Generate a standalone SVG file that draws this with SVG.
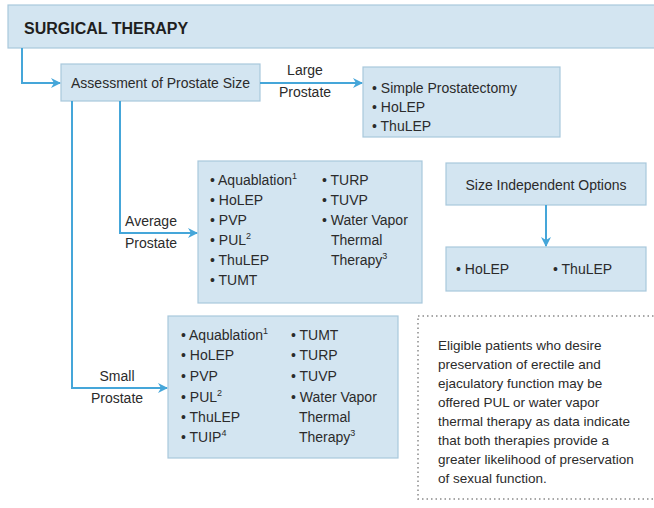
<svg xmlns="http://www.w3.org/2000/svg" width="654" height="508" viewBox="0 0 654 508">
<defs>
<marker id="ah" viewBox="0 0 10 10" refX="9" refY="5" markerWidth="10" markerHeight="10" markerUnits="userSpaceOnUse" orient="auto">
<path d="M0,0 L10,5 L0,10 L3,5 Z" fill="#45a6d9"/>
</marker>
</defs>
<style>
.box{fill:#d3e5f1;stroke:#a9c8dc;stroke-width:1.2}
.t{font-family:"Liberation Sans",Arial,sans-serif;font-size:14px;fill:#2b2b2b}
.n{font-family:"Liberation Sans",Arial,sans-serif;font-size:13.5px;fill:#2b2b2b}
.h{font-family:"Liberation Sans",Arial,sans-serif;font-size:16px;font-weight:bold;fill:#1f1f1f}
.c{fill:none;stroke:#45a6d9;stroke-width:2;marker-end:url(#ah)}
.sup{font-size:9px}
</style>
<rect width="654" height="508" fill="#ffffff"/>
<g id="header">
<rect class="box" x="8" y="5" width="660" height="43"/>
<text class="h" x="24" y="34">SURGICAL THERAPY</text>
</g>
<g id="assessment">
<rect class="box" x="61" y="64" width="199" height="37"/>
<text class="t" x="160.5" y="88" text-anchor="middle">Assessment of Prostate Size</text>
</g>
<g id="large">
<rect class="box" x="363" y="67" width="197" height="70"/>
<text class="t" x="372" y="93">• Simple Prostatectomy</text>
<text class="t" x="372" y="112">• HoLEP</text>
<text class="t" x="372" y="131">• ThuLEP</text>
</g>
<g id="average">
<rect class="box" x="198" y="161" width="224" height="142"/>
<text class="t" x="210" y="185">• Aquablation<tspan class="sup" dy="-6">1</tspan></text>
<text class="t" x="210" y="205">• HoLEP</text>
<text class="t" x="210" y="225">• PVP</text>
<text class="t" x="210" y="245">• PUL<tspan class="sup" dy="-6">2</tspan></text>
<text class="t" x="210" y="265">• ThuLEP</text>
<text class="t" x="210" y="285">• TUMT</text>
<text class="t" x="322" y="185">• TURP</text>
<text class="t" x="322" y="205">• TUVP</text>
<text class="t" x="322" y="225">• Water Vapor</text>
<text class="t" x="331" y="245">Thermal</text>
<text class="t" x="331" y="265">Therapy<tspan class="sup" dy="-6">3</tspan></text>
</g>
<g id="sizeindep">
<rect class="box" x="446" y="163" width="200" height="42"/>
<text class="t" x="546" y="190" text-anchor="middle">Size Independent Options</text>
</g>
<g id="sizeindep-options">
<rect class="box" x="446" y="247" width="200" height="44"/>
<text class="t" x="456" y="274">• HoLEP</text>
<text class="t" x="553" y="274">• ThuLEP</text>
</g>
<g id="small">
<rect class="box" x="168" y="316" width="230" height="142"/>
<text class="t" x="181" y="340">• Aquablation<tspan class="sup" dy="-6">1</tspan></text>
<text class="t" x="181" y="360">• HoLEP</text>
<text class="t" x="181" y="381">• PVP</text>
<text class="t" x="181" y="402">• PUL<tspan class="sup" dy="-6">2</tspan></text>
<text class="t" x="181" y="422">• ThuLEP</text>
<text class="t" x="181" y="442">• TUIP<tspan class="sup" dy="-6">4</tspan></text>
<text class="t" x="291" y="340">• TUMT</text>
<text class="t" x="291" y="360">• TURP</text>
<text class="t" x="291" y="381">• TUVP</text>
<text class="t" x="291" y="402">• Water Vapor</text>
<text class="t" x="299" y="422">Thermal</text>
<text class="t" x="299" y="442">Therapy<tspan class="sup" dy="-6">3</tspan></text>
</g>
<g id="note">
<rect x="418" y="316" width="260" height="183" fill="#ffffff" stroke="#8a8a8a" stroke-width="1.5" stroke-dasharray="1.5 3"/>
<text class="n" x="438" y="350">Eligible patients who desire</text>
<text class="n" x="438" y="369">preservation of erectile and</text>
<text class="n" x="438" y="388">ejaculatory function may be</text>
<text class="n" x="438" y="407">offered PUL or water vapor</text>
<text class="n" x="438" y="426">thermal therapy as data indicate</text>
<text class="n" x="438" y="445">that both therapies provide a</text>
<text class="n" x="438" y="464">greater likelihood of preservation</text>
<text class="n" x="438" y="483">of sexual function.</text>
</g>
<g id="connectors">
<path class="c" d="M22,48 V83 H60"/>
<path class="c" d="M260,83 H362"/>
<path class="c" d="M120,101 V233 H197"/>
<path class="c" d="M72,101 V388 H167"/>
<path class="c" d="M546,205 V246"/>
<text class="t" x="305" y="75" text-anchor="middle">Large</text>
<text class="t" x="305" y="97" text-anchor="middle">Prostate</text>
<text class="t" x="151" y="226" text-anchor="middle">Average</text>
<text class="t" x="151" y="248" text-anchor="middle">Prostate</text>
<text class="t" x="117" y="381" text-anchor="middle">Small</text>
<text class="t" x="117" y="403" text-anchor="middle">Prostate</text>
</g>
</svg>
